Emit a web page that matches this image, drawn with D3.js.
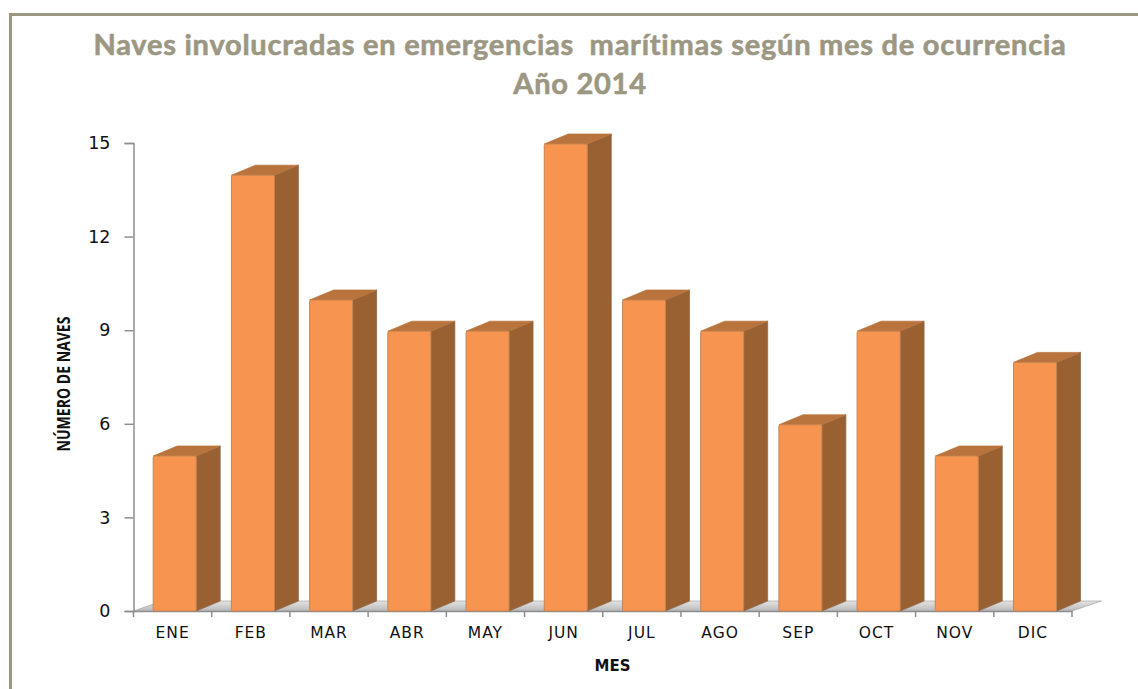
<!DOCTYPE html>
<html>
<head>
<meta charset="utf-8">
<script src="https://cdn.jsdelivr.net/npm/d3@7"></script>
<style>
  html, body { margin: 0; padding: 0; background: #fff; }
  svg { display: block; }
  .axis path, .axis line { stroke: #8e8e93; stroke-width: 1.5; }
  .axis text { font-family: "DejaVu Sans", sans-serif; fill: #111; }
</style>
</head>
<body>
<div id="chart"></div>
<script>
const months = ['ENE', 'FEB', 'MAR', 'ABR', 'MAY', 'JUN', 'JUL', 'AGO', 'SEP', 'OCT', 'NOV', 'DIC'];
const vessels = [5, 14, 10, 9, 9, 15, 10, 9, 6, 9, 5, 8];
const yTicks = [0, 3, 6, 9, 12, 15];
const titleLines = ['Naves involucradas en emergencias  marítimas según mes de ocurrencia', 'Año 2014'];

const chartWidth = 1138, chartHeight = 689;
const plot = { left: 133.5, right: 1072, top: 143, bottom: 611 };
const depthX = 24, depthY = 10;
const barTopDrop = 1; // bars stop just under the value line

const svg = d3.select('#chart').append('svg')
    .attr('width', chartWidth)
    .attr('height', chartHeight);

const defs = svg.append('defs');
const floorGrad = defs.append('linearGradient').attr('id', 'floorGrad')
    .attr('x1', 0).attr('x2', 0).attr('y1', 0).attr('y2', 1);
floorGrad.append('stop').attr('offset', '0%').attr('stop-color', '#e4e4e4');
floorGrad.append('stop').attr('offset', '100%').attr('stop-color', '#b9b9b9');

// Frame, only top and left
svg.append('path')
    .attr('d', `M10.5,${chartHeight}V14.5H${chartWidth}`)
    .attr('fill', 'none')
    .attr('stroke', '#9c9782')
    .attr('stroke-width', 3);

// Title
svg.selectAll('.chart-title')
    .data(titleLines)
    .enter().append('text')
    .attr('class', 'chart-title')
    .attr('x', 580)
    .attr('y', (d, i) => 55 + i * 39)
    .attr('text-anchor', 'middle')
    .attr('xml:space', 'preserve')
    .style('white-space', 'pre')
    .style('font-family', 'Lato, sans-serif')
    .style('font-weight', 'bold')
    .style('font-size', '29px')
    .style('letter-spacing', '0.75px')
    .style('fill', '#9c9782')
    .style('stroke', '#9c9782')
    .style('stroke-width', 0.6)
    .text(d => d);

const x = d3.scaleBand().domain(months).range([plot.left, plot.right]).paddingInner(0.45).paddingOuter(0.225).align(0.56);
const xTickScale = d3.scaleBand().domain(months).range([plot.left, plot.right]);
const y = d3.scaleLinear().domain([0, 15]).range([plot.bottom, plot.top]);

// Floor
svg.append('path')
    .attr('d', `M${plot.left},${plot.bottom}L${plot.left + depthX + 5},${plot.bottom - depthY}H${plot.right + 29.5}L${plot.right},${plot.bottom}Z`)
    .attr('fill', 'url(#floorGrad)')
    .attr('stroke', '#a8a8a8')
    .attr('stroke-width', 0.75);

// Axes
const yAxis = svg.append('g')
    .attr('class', 'axis')
    .attr('transform', `translate(${plot.left},0)`)
    .call(d3.axisLeft(y).tickValues(yTicks).tickSize(9).tickPadding(14));
yAxis.selectAll('text').style('font-size', '17.5px');

const xAxis = svg.append('g')
    .attr('class', 'axis')
    .attr('transform', `translate(0,${plot.bottom})`)
    .call(d3.axisBottom(xTickScale).tickSize(0).tickPadding(16));
xAxis.selectAll('text').style('font-size', '15.5px').style('letter-spacing', '1px');
xAxis.selectAll('.tick line').remove();
xAxis.selectAll('.sep')
    .data(d3.range(months.length + 1))
    .enter().append('line')
    .attr('class', 'sep')
    .attr('x1', i => plot.left + i * xTickScale.step())
    .attr('x2', i => plot.left + i * xTickScale.step())
    .attr('y1', 0)
    .attr('y2', 6);

// 3D bars
const bars = svg.selectAll('.bar')
    .data(months.map((m, i) => ({ month: m, value: vessels[i] })))
    .enter().append('g')
    .attr('class', 'bar');

bars.append('path') // Side face
    .attr('d', d => {
        const r = x(d.month) + x.bandwidth();
        return `M${r},${y(d.value) + barTopDrop}l${depthX},${-depthY}V${plot.bottom - depthY}l${-depthX},${depthY}Z`;
    })
    .attr('fill', '#996032')
    .attr('stroke', '#8e6a4a')
    .attr('stroke-width', 0.75);

bars.append('path') // Top face
    .attr('d', d => {
        const l = x(d.month);
        return `M${l},${y(d.value) + barTopDrop}l${depthX},${-depthY}h${x.bandwidth()}l${-depthX},${depthY}Z`;
    })
    .attr('fill', '#b8743c')
    .attr('stroke', '#b8743c')
    .attr('stroke-width', 0.75)
    .attr('stroke-linejoin', 'round');

bars.append('rect') // Front face
    .attr('x', d => x(d.month))
    .attr('y', d => y(d.value) + barTopDrop)
    .attr('width', x.bandwidth())
    .attr('height', d => plot.bottom - y(d.value) - barTopDrop)
    .attr('rx', 1.5)
    .attr('fill', '#f79550')
    .attr('stroke', '#c5834f')
    .attr('stroke-width', 1);

// Axis titles
svg.append('text')
    .attr('transform', `translate(70,384) rotate(-90) scale(0.78,1)`)
    .attr('text-anchor', 'middle')
    .style('font-family', '"Open Sans", sans-serif')
    .style('font-weight', 'bold')
    .style('font-size', '18px')
    .style('fill', '#111')
    .text('NÚMERO DE NAVES');

svg.append('text')
    .attr('x', 612.5)
    .attr('y', 671)
    .attr('text-anchor', 'middle')
    .style('font-family', '"DejaVu Sans", sans-serif')
    .style('font-weight', 'bold')
    .style('font-size', '15px')
    .style('fill', '#111')
    .text('MES');
</script>
</body>
</html>
